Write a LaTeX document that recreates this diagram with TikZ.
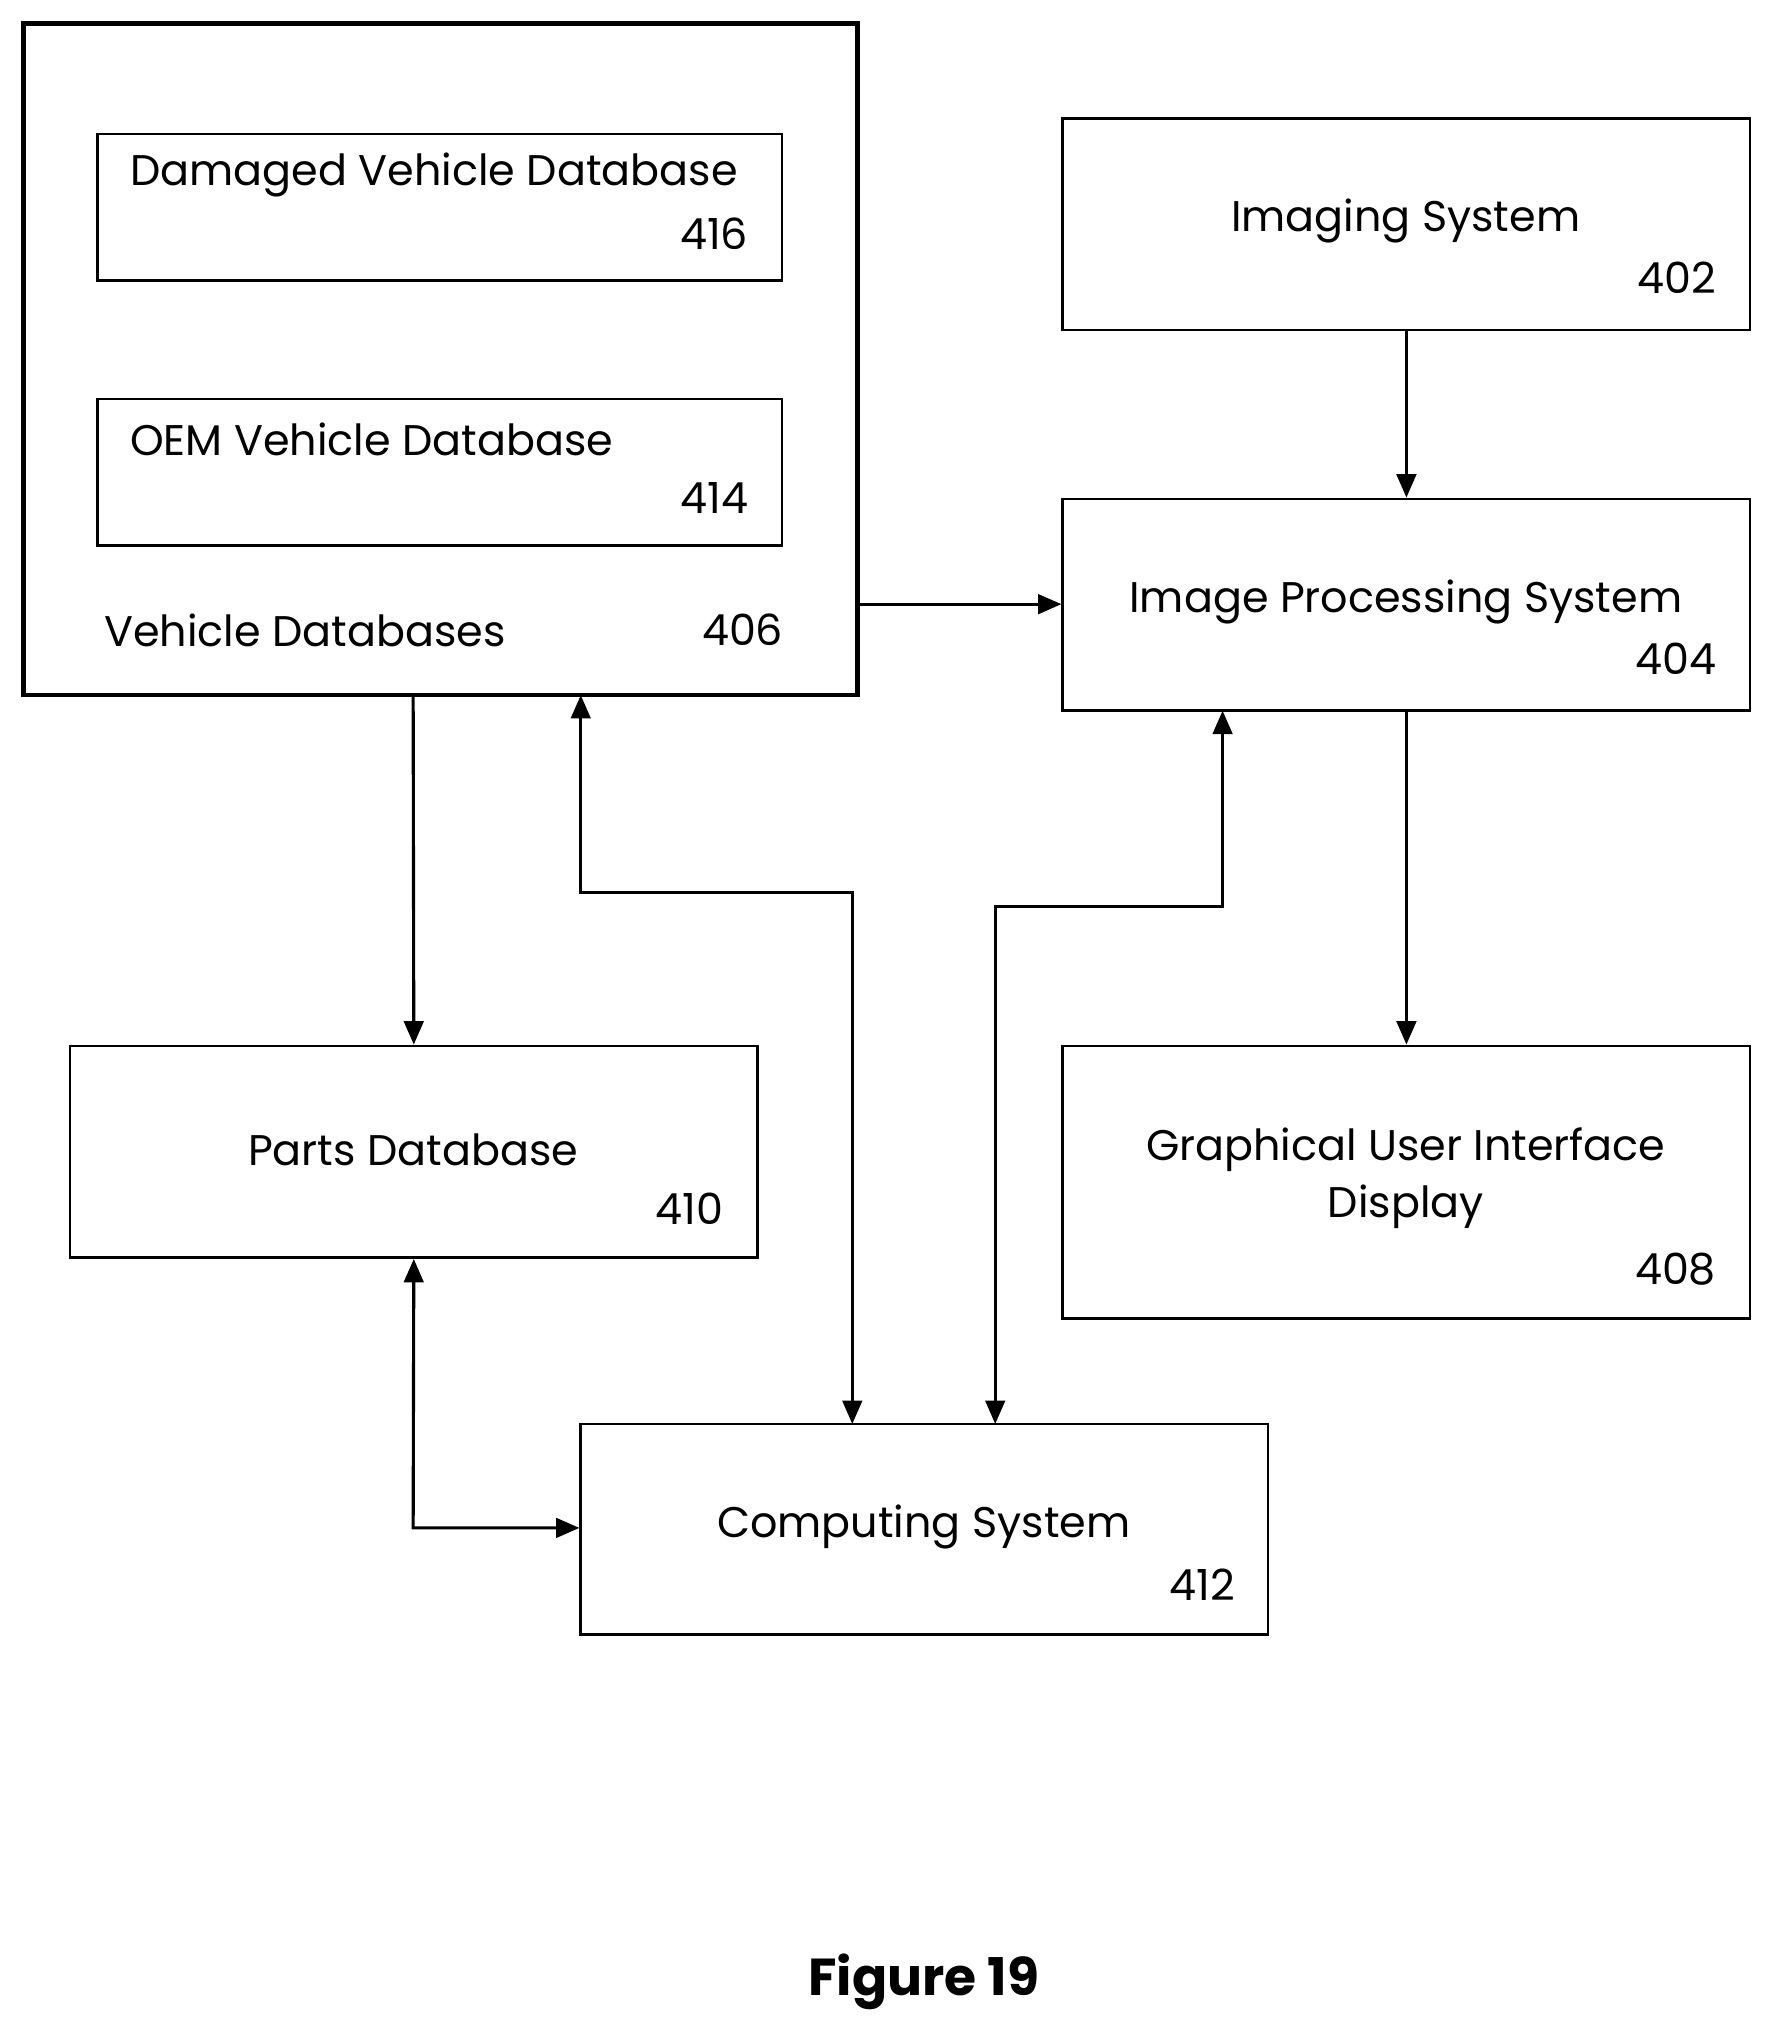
\documentclass[tikz,border=0pt]{standalone}
\usepackage{fontspec}
\setmainfont{Poppins}
\usetikzlibrary{arrows.meta}
\begin{document}
\begin{tikzpicture}[x=1pt,y=-1pt,
  box/.style={draw,line width=2pt},
  lbl/.style={font=\fontsize{33}{44}\selectfont,inner sep=0pt},
  num/.style={lbl,anchor=east},
  arr/.style={line width=2.4pt,-{Triangle[length=18pt,width=15pt]}},
  darr/.style={line width=2.4pt,{Triangle[length=18pt,width=15pt]}-{Triangle[length=18pt,width=15pt]}}]
\useasboundingbox (0,0) rectangle (1360,1564);
% boxes
\node[draw,line width=3.5pt,minimum width=642pt,minimum height=517pt] (vdb) at (339,276.5) {};
\node[box,minimum width=527pt,minimum height=113pt] (dmg) at (338.5,159.5) {};
\node[box,minimum width=527pt,minimum height=113pt] (oem) at (338.5,363.5) {};
\node[box,minimum width=529pt,minimum height=163pt] (img) at (1082.5,172.5) {};
\node[box,minimum width=529pt,minimum height=163pt] (ips) at (1082.5,465.5) {};
\node[box,minimum width=529pt,minimum height=210pt] (gui) at (1082.5,910) {};
\node[box,minimum width=529pt,minimum height=163pt] (parts) at (318.5,886.5) {};
\node[box,minimum width=529pt,minimum height=162pt] (comp) at (711.5,1177) {};
% texts
\node[lbl,anchor=west] (t416) at (100,135) {Damaged Vehicle Database};
\node[num] (n416) at (576,180) {416};
\node[lbl,anchor=west] (t414) at (100,338) {OEM Vehicle Database};
\node[num] (n414) at (576,383) {414};
\node[lbl,anchor=west] (t406) at (80,485) {Vehicle Databases};
\node[num] (n406) at (603,485) {406};
\node[lbl] (t402) at (1082,170) {Imaging System};
\node[num] (n402) at (1321,214) {402};
\node[lbl] (t404) at (1082,463) {Image Processing System};
\node[num] (n404) at (1321,507) {404};
\node[lbl,align=center] (t408) at (1082,907) {Graphical User Interface\\Display};
\node[num] (n408) at (1321,977) {408};
\node[lbl] (t410) at (318,885) {Parts Database};
\node[num] (n410) at (557,930) {410};
\node[lbl] (t412) at (711,1175) {Computing System};
\node[num] (n412) at (951,1220) {412};
\node[font=\bfseries\fontsize{40}{48}\selectfont] (fig) at (711,1525) {Figure 19};
% connectors
\coordinate (vr) at (660,465);
\coordinate (vb1) at (318,535);
\coordinate (vb2) at (447,535);
\draw[arr] (img.south) -- (ips.north);
\draw[arr] (vr) -- (ips.west |- vr);
\draw[arr] (ips.south) -- (gui.north);
\draw[arr] (vb1) -- (parts.north);
\draw[darr] (vb2) -- (447,687) -- (656,687) -- (656,1096);
\draw[darr] (941,547) -- (941,698) -- (766,698) -- (766,1096);
\draw[darr] (parts.south) -- (318,1176) -- (comp.west |- 318,1176);
\end{tikzpicture}
\end{document}
